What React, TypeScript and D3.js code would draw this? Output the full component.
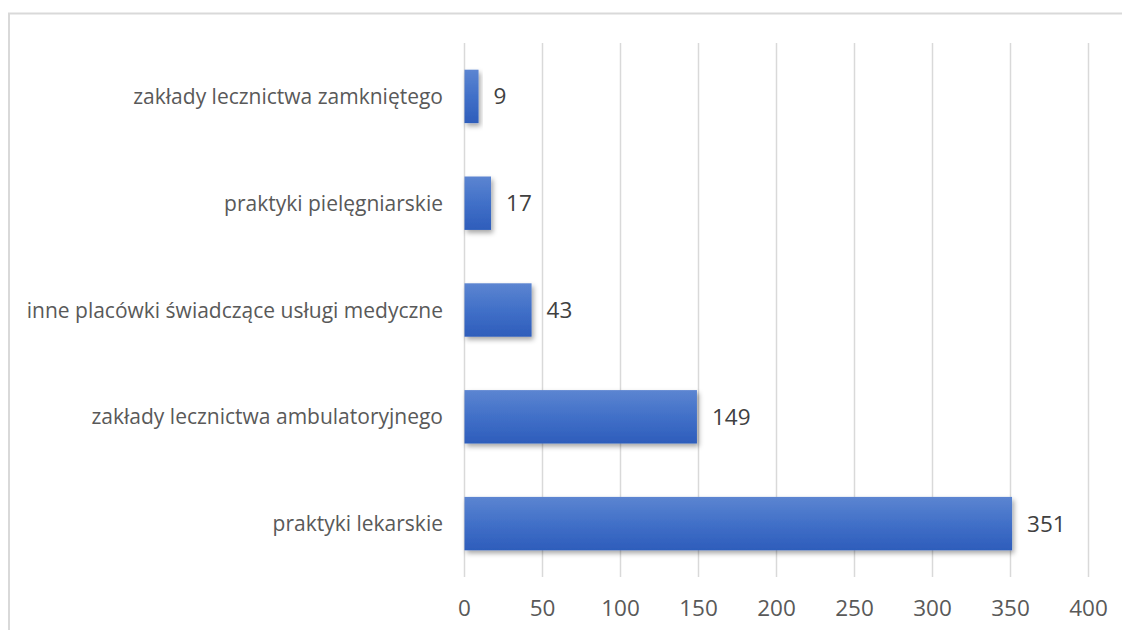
import React from "react";
import * as d3 from "d3";

const categories = [
  "zakłady lecznictwa zamkniętego",
  "praktyki pielęgniarskie",
  "inne placówki świadczące usługi medyczne",
  "zakłady lecznictwa ambulatoryjnego",
  "praktyki lekarskie",
];
const values = [9, 17, 43, 149, 351];
const xTicks = [0, 50, 100, 150, 200, 250, 300, 350, 400];

const W = 1122;
const H = 630;

export default function App() {
  const x = d3.scaleLinear().domain([0, 400]).range([464.5, 1088.5]);
  const y = d3
    .scaleBand<string>()
    .domain(categories)
    .range([43, 577])
    .paddingInner(0.5)
    .paddingOuter(0.25);
  const font = "'Open Sans', 'Noto Sans', sans-serif";
  return (
    <svg
      width={W}
      height={H}
      style={{ position: "absolute", left: 0, top: 0, background: "#fff" }}
    >
      <defs>
        <linearGradient id="barGrad" x1="0" y1="0" x2="0" y2="1">
          <stop offset="0%" stopColor="#5c85d1" />
          <stop offset="50%" stopColor="#4170c8" />
          <stop offset="100%" stopColor="#2e5dbb" />
        </linearGradient>
        <filter id="shadow" x="-20%" y="-30%" width="150%" height="180%">
          <feDropShadow dx="2" dy="3" stdDeviation="2.5" floodColor="#000" floodOpacity="0.35" />
        </filter>
      </defs>
      <rect x={0} y={0} width={W} height={H} fill="#fff" />
      <rect
        x={9}
        y={13.5}
        width={W + 20}
        height={H + 20}
        fill="none"
        stroke="#d9d9d9"
        strokeWidth={2}
      />
      {xTicks.map((t) => (
        <line
          key={"g" + t}
          x1={x(t)}
          x2={x(t)}
          y1={43}
          y2={577}
          stroke="#d9d9d9"
          strokeWidth={1.5}
        />
      ))}
      {xTicks.map((t) => (
        <text
          key={"t" + t}
          x={x(t)}
          y={616}
          textAnchor="middle"
          fontFamily={font}
          fontSize={22.5}
          fill="#595959"
        >
          {t}
        </text>
      ))}
      {categories.map((c, i) => {
        const by = y(c)!;
        const bw = y.bandwidth();
        return (
          <g key={c}>
            <rect
              x={x(0)}
              y={by}
              width={x(values[i]) - x(0)}
              height={bw}
              fill="url(#barGrad)"
              filter="url(#shadow)"
            />
            <text
              x={443}
              y={by + bw / 2 + 7.5}
              textAnchor="end"
              fontFamily={font}
              fontSize={21}
              fill="#595959"
            >
              {c}
            </text>
            <text
              x={x(values[i]) + 15}
              y={by + bw / 2 + 8}
              textAnchor="start"
              fontFamily={font}
              fontSize={22.5}
              fill="#404040"
            >
              {values[i]}
            </text>
          </g>
        );
      })}
    </svg>
  );
}
